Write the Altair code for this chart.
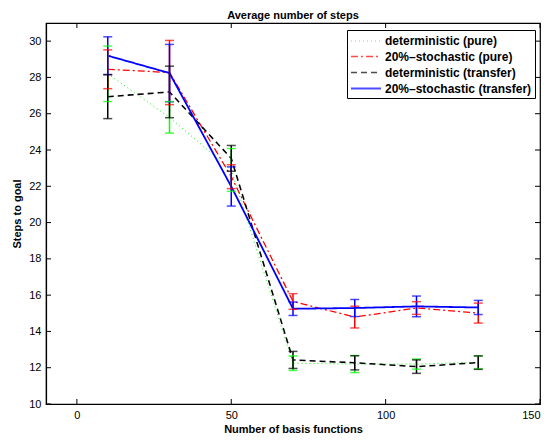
import altair as alt
import pandas as pd

x_vals = [10, 30, 50, 70, 90, 110, 130]
series = ["deterministic (pure)", "20%–stochastic (pure)",
          "deterministic (transfer)", "20%–stochastic (transfer)"]
colors = ["#00ff00", "#ff0000", "#000000", "#0000ff"]
dashes = [[1, 3], [7, 3, 2, 3], [6, 4], [1, 0]]
widths = [1.0, 1.8, 1.8, 1.8]

det_pure_mean = [28.2, 25.8, 22.9, 12.25, 12.2, 12.2, 12.3]
det_pure_err = [1.53, 0.87, 1.18, 0.4, 0.47, 0.28, 0.35]
sto_pure_mean = [28.45, 28.27, 22.53, 15.65, 14.79, 15.29, 15.01]
sto_pure_err = [1.07, 1.77, 0.66, 0.43, 0.6, 0.35, 0.55]
det_tr_mean = [26.94, 27.2, 23.54, 12.43, 12.27, 12.06, 12.28]
det_tr_err = [1.21, 1.42, 0.71, 0.47, 0.39, 0.37, 0.37]
sto_tr_mean = [29.2, 28.24, 21.99, 15.25, 15.29, 15.38, 15.32]
sto_tr_err = [1.04, 1.58, 1.08, 0.37, 0.47, 0.57, 0.39]

x_ticks = [0, 50, 100, 150]
y_ticks = [10, 12, 14, 16, 18, 20, 22, 24, 26, 28, 30]

means = [det_pure_mean, sto_pure_mean, det_tr_mean, sto_tr_mean]
errs = [det_pure_err, sto_pure_err, det_tr_err, sto_tr_err]
rows = []
for si, (s, m, e) in enumerate(zip(series, means, errs)):
    for x, mv, ev in zip(x_vals, m, e):
        rows.append({"x": x, "y": mv, "lo": mv - ev, "hi": mv + ev,
                     "series": s, "order": si})
df = pd.DataFrame(rows)

W, H = 494, 381
FONT = "Liberation Sans"

xs = alt.Scale(domain=[-10, 150], nice=False, zero=False)
ys = alt.Scale(domain=[10, 31], nice=False, zero=False)
cs = alt.Scale(domain=series, range=colors)
ds = alt.Scale(domain=series, range=dashes)
ws = alt.Scale(domain=series, range=widths)

leg = alt.Legend(title=None, orient="none", legendX=301, legendY=7,
                 symbolType="M-1,0H3", symbolSize=225, symbolStrokeWidth=1.5,
                 symbolFillColor="transparent",
                 fillColor="white", strokeColor="black",
                 padding=3, rowPadding=1, labelOffset=18,
                 labelFont=FONT, labelFontSize=12, labelFontWeight="bold",
                 labelColor="black", labelLimit=300)

xax = alt.Axis(values=x_ticks, title="Number of basis functions", grid=False,
               tickSize=0, labelPadding=5, titlePadding=3, labelOverlap=False)
yax = alt.Axis(values=y_ticks, title="Steps to goal", grid=False, tickSize=0,
               labelPadding=5, titlePadding=6, labelOverlap=False)

base = alt.Chart(df)

lines = base.mark_line().encode(
    x=alt.X("x:Q", scale=xs, axis=xax),
    y=alt.Y("y:Q", scale=ys, axis=yax),
    color=alt.Color("series:N", scale=cs, sort=series, legend=leg),
    strokeDash=alt.StrokeDash("series:N", scale=ds, sort=series, legend=leg),
    strokeWidth=alt.StrokeWidth("series:N", scale=ws, legend=None),
    detail="series:N",
    order=alt.Order("x:Q"),
)

col = alt.Color("series:N", scale=cs, sort=series, legend=leg)
bars = base.mark_rule(strokeWidth=1.5).encode(
    x=alt.X("x:Q", scale=xs, axis=xax),
    y=alt.Y("lo:Q", scale=ys, axis=yax), y2="hi:Q", color=col)
cap_lo = base.mark_tick(orient="horizontal", size=9, thickness=1.5).encode(
    x=alt.X("x:Q", scale=xs, axis=xax),
    y=alt.Y("lo:Q", scale=ys, axis=yax), color=col)
cap_hi = base.mark_tick(orient="horizontal", size=9, thickness=1.5).encode(
    x=alt.X("x:Q", scale=xs, axis=xax),
    y=alt.Y("hi:Q", scale=ys, axis=yax), color=col)

xt = alt.Chart(pd.DataFrame({"t": x_ticks}))
yt = alt.Chart(pd.DataFrame({"t": y_ticks}))
tk_b = xt.mark_rule(color="black").encode(
    x=alt.X("t:Q", scale=xs, axis=xax), y=alt.value(H), y2=alt.value(H - 5))
tk_t = xt.mark_rule(color="black").encode(
    x=alt.X("t:Q", scale=xs, axis=xax), y=alt.value(0), y2=alt.value(5))
tk_l = yt.mark_rule(color="black").encode(
    y=alt.Y("t:Q", scale=ys, axis=yax), x=alt.value(0), x2=alt.value(5))
tk_r = yt.mark_rule(color="black").encode(
    y=alt.Y("t:Q", scale=ys, axis=yax), x=alt.value(W), x2=alt.value(W - 5))

chart = alt.layer(
    lines, tk_b, tk_t, tk_l, tk_r, bars, cap_lo, cap_hi
).properties(
    width=W, height=H,
    title=alt.TitleParams("Average number of  steps", font=FONT, fontSize=11,
                          fontWeight="bold", color="black", offset=2),
    autosize=alt.AutoSizeParams(type="none"),
    padding={"left": 38, "top": 15, "right": 2, "bottom": 31},
).configure_view(stroke="black", strokeWidth=1.2).configure_axis(
    labelFont=FONT, labelFontSize=11, labelColor="black",
    titleFont=FONT, titleFontSize=11, titleFontWeight="bold", titleColor="black",
    domainColor="black", domainWidth=1.2,
)

chart.save("out.html", embed_options={"renderer": "svg", "actions": False})
